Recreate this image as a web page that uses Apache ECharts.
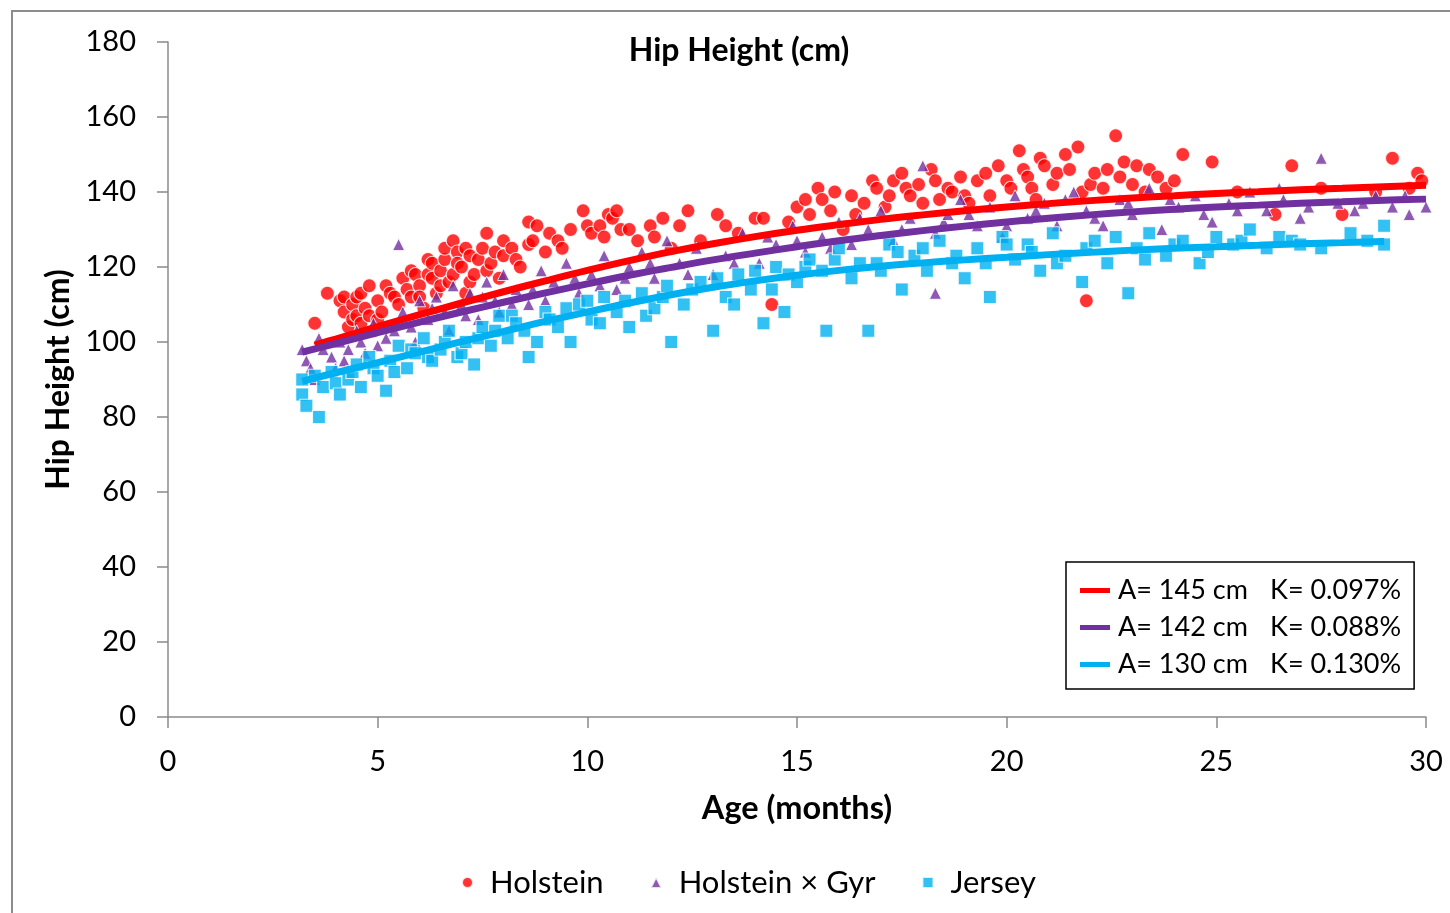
<!DOCTYPE html>
<html>
<head>
<meta charset="utf-8">
<title>Hip Height (cm)</title>
<script src="https://cdn.jsdelivr.net/npm/echarts@6/dist/echarts.min.js"></script>
<style>
  html, body { margin: 0; padding: 0; background: #fff; }
  #chart { width: 1450px; height: 913px; }
</style>
</head>
<body>
<div id="chart"></div>
<script>
// scatter data [age in months, hip height in cm]
var holstein = [
  [3.5,105],[3.8,113],[4.1,111],[4.2,108],[4.2,112],[4.3,104],[4.4,110],[4.4,106],[4.5,112],[4.5,107],
  [4.6,105],[4.6,113],[4.7,109],[4.8,115],[4.8,107],[4.9,103],[5.0,111],[5.0,106],[5.1,108],[5.2,115],
  [5.3,113],[5.4,112],[5.5,110],[5.6,117],[5.7,114],[5.8,112],[5.8,119],[5.9,118],[6.0,115],[6.0,112],
  [6.1,109],[6.2,122],[6.2,118],[6.3,117],[6.3,121],[6.4,113],[6.5,119],[6.5,115],[6.6,122],[6.6,125],
  [6.7,116],[6.8,127],[6.8,118],[6.9,124],[6.9,121],[7.0,120],[7.1,113],[7.1,125],[7.2,123],[7.2,116],
  [7.3,118],[7.4,122],[7.5,125],[7.6,129],[7.6,119],[7.7,121],[7.8,124],[7.9,117],[8.0,123],[8.0,127],
  [8.2,125],[8.3,122],[8.4,120],[8.6,132],[8.6,126],[8.7,127],[8.8,131],[9.0,124],[9.1,129],[9.3,127],
  [9.4,125],[9.6,130],[9.9,135],[10.0,131],[10.1,129],[10.3,131],[10.4,128],[10.5,134],[10.6,133],[10.7,135],
  [10.8,130],[11.0,130],[11.2,127],[11.5,131],[11.6,128],[11.8,133],[12.0,125],[12.2,131],[12.4,135],[12.7,127],
  [13.1,134],[13.3,131],[13.6,129],[14.0,133],[14.2,133],[14.4,110],[14.8,132],[15.0,136],[15.2,138],[15.3,134],
  [15.5,141],[15.6,138],[15.8,135],[15.9,140],[16.1,130],[16.3,139],[16.4,134],[16.6,137],[16.8,143],[16.9,141],
  [17.1,136],[17.2,139],[17.3,143],[17.5,145],[17.6,141],[17.7,139],[17.9,142],[18.0,137],[18.2,146],[18.3,143],
  [18.4,138],[18.6,141],[18.7,140],[18.9,144],[19.0,139],[19.1,137],[19.3,143],[19.5,145],[19.6,139],[19.8,147],
  [20.0,143],[20.1,141],[20.3,151],[20.4,146],[20.5,144],[20.6,141],[20.7,138],[20.8,149],[20.9,147],[21.1,142],
  [21.2,145],[21.4,150],[21.5,146],[21.7,152],[21.8,140],[21.9,111],[22.0,142],[22.1,145],[22.3,141],[22.4,146],
  [22.6,155],[22.7,144],[22.8,148],[23.0,142],[23.1,147],[23.3,140],[23.4,146],[23.6,144],[23.8,141],[24.0,143],
  [24.2,150],[24.9,148],[25.5,140],[26.4,134],[26.8,147],[27.5,141],[28.0,134],[28.8,140],[29.2,149],[29.6,141],
  [29.8,145],[29.9,143]
];
var holsteinGyr = [
  [3.2,98],[3.3,95],[3.4,93],[3.5,90],[3.6,101],[3.7,98],[3.9,96],[4.0,93],[4.1,100],[4.2,95],
  [4.3,98],[4.5,103],[4.6,100],[4.7,97],[4.9,105],[5.0,99],[5.2,101],[5.4,103],[5.5,126],[5.6,108],
  [5.8,104],[5.9,100],[6.0,111],[6.2,106],[6.3,109],[6.4,112],[6.6,108],[6.7,103],[6.8,115],[7.0,110],
  [7.1,107],[7.2,113],[7.4,106],[7.5,112],[7.6,116],[7.8,111],[7.9,108],[8.0,118],[8.2,110],[8.3,114],
  [8.6,110],[8.7,114],[8.9,119],[9.0,111],[9.2,116],[9.5,121],[9.7,117],[9.8,113],[10.1,118],[10.3,115],
  [10.4,123],[10.7,114],[10.9,117],[11.0,120],[11.3,124],[11.5,121],[11.6,117],[11.9,127],[12.2,121],[12.4,118],
  [12.6,125],[13.0,118],[13.3,123],[13.5,121],[13.7,129],[14.1,121],[14.3,128],[14.5,126],[14.9,131],[15.0,127],
  [15.2,124],[15.6,128],[15.8,125],[16.0,132],[16.3,126],[16.5,133],[16.7,130],[17.0,135],[17.3,127],[17.5,130],
  [17.7,133],[18.0,147],[18.3,113],[18.3,129],[18.5,132],[18.6,134],[18.9,138],[19.1,134],[19.3,131],[19.6,136],
  [19.9,128],[20.0,131],[20.2,139],[20.5,133],[20.7,135],[20.9,137],[21.2,131],[21.4,138],[21.6,140],[21.9,135],
  [22.1,133],[22.3,131],[22.7,138],[22.9,137],[23.0,134],[23.4,141],[23.7,130],[23.9,138],[24.1,136],[24.5,139],
  [24.7,134],[24.9,132],[25.3,137],[25.5,135],[25.8,140],[26.2,135],[26.5,141],[26.6,138],[27.0,133],[27.2,136],
  [27.5,149],[27.9,137],[28.3,135],[28.5,137],[28.8,139],[29.2,136],[29.5,139],[29.6,134],[30.0,136]
];
var jersey = [
  [3.2,90],[3.2,86],[3.3,83],[3.5,91],[3.6,80],[3.7,88],[3.9,92],[4.0,89],[4.1,86],[4.3,90],
  [4.4,92],[4.5,94],[4.6,88],[4.8,96],[4.9,93],[5.0,91],[5.2,87],[5.3,95],[5.4,92],[5.5,99],
  [5.7,93],[5.8,98],[5.9,97],[6.1,101],[6.2,96],[6.3,95],[6.5,98],[6.6,100],[6.7,103],[6.9,96],
  [7.0,97],[7.1,100],[7.3,94],[7.4,101],[7.5,104],[7.7,99],[7.8,103],[7.9,107],[8.1,101],[8.2,107],
  [8.3,105],[8.5,103],[8.6,96],[8.8,100],[9.0,108],[9.1,106],[9.3,104],[9.5,109],[9.6,100],[9.8,110],
  [10.0,111],[10.1,106],[10.3,105],[10.4,112],[10.7,108],[10.9,111],[11.0,104],[11.3,113],[11.4,107],[11.6,109],
  [11.8,112],[11.9,115],[12.0,100],[12.3,110],[12.5,114],[12.7,116],[13.0,103],[13.1,117],[13.3,112],[13.5,110],
  [13.6,118],[13.9,114],[14.0,119],[14.2,105],[14.4,114],[14.5,120],[14.7,108],[14.8,118],[15.0,116],[15.2,120],
  [15.3,122],[15.6,119],[15.7,103],[15.9,122],[16.0,125],[16.3,117],[16.5,121],[16.7,103],[16.9,121],[17.0,119],
  [17.2,126],[17.4,124],[17.5,114],[17.8,123],[18.0,125],[18.1,119],[18.4,127],[18.7,121],[18.8,123],[19.0,117],
  [19.3,125],[19.5,121],[19.6,112],[19.9,128],[20.0,126],[20.2,122],[20.5,126],[20.6,124],[20.8,119],[21.1,129],
  [21.2,121],[21.4,123],[21.8,116],[21.9,125],[22.1,127],[22.4,121],[22.6,128],[22.9,113],[23.1,125],[23.3,122],
  [23.4,129],[23.8,123],[24.0,126],[24.2,127],[24.6,121],[24.8,124],[25.0,128],[25.4,126],[25.6,127],[25.8,130],
  [26.2,125],[26.5,128],[26.8,127],[27.0,126],[27.5,125],[28.2,129],[28.6,127],[29.0,131],[29.0,126]
];

// fitted growth curves
var fitHolstein = [
  [3.5,99.2],[4,100.8],[5,104.1],[6,107.3],[7,110.4],[8,113.4],[9,116.3],[10,119.1],[11,121.7],[12,124.1],
  [13,126.2],[14,128.1],[15,129.8],[16,131.3],[17,132.7],[18,133.9],[19,135.0],[20,136.0],[21,136.9],[22,137.7],
  [23,138.4],[24,139.0],[25,139.6],[26,140.1],[27,140.6],[28,141.0],[29,141.4],[30,141.8]
];
var fitHolsteinGyr = [
  [3.2,97.3],[4,99.6],[5,102.5],[6,105.3],[7,108.0],[8,110.6],[9,113.1],[10,115.5],[11,117.8],[12,119.9],
  [13,121.9],[14,123.7],[15,125.4],[16,127.0],[17,128.4],[18,129.7],[19,130.9],[20,132.0],[21,133.0],[22,133.9],
  [23,134.7],[24,135.4],[25,136.0],[26,136.5],[27,137.0],[28,137.4],[29,137.8],[30,138.1]
];
var fitJersey = [
  [3.2,89.5],[4,91.8],[5,94.5],[6,97.3],[7,100.1],[8,102.8],[9,105.5],[10,108.0],[11,110.4],[12,112.6],
  [13,114.6],[14,116.3],[15,117.8],[16,119.1],[17,120.2],[18,121.1],[19,121.9],[20,122.6],[21,123.3],[22,123.9],
  [23,124.5],[24,125.0],[25,125.4],[26,125.8],[27,126.2],[28,126.5],[29,126.8]
];

var seriesNames = ['Holstein', 'Holstein × Gyr', 'Jersey'];
var fitNames = ['A= 145 cm|K= 0.097%', 'A= 142 cm|K= 0.088%', 'A= 130 cm|K= 0.130%'];
var colors = ['#FF0000', '#7030A0', '#00B0F0'];

var FONT = 'Lato';
var axisGray = '#8a8a8a';

var myChart = echarts.init(document.getElementById('chart'));

myChart.setOption({
  animation: false,
  textStyle: { fontFamily: FONT },
  title: {
    text: 'Hip Height (cm)',
    left: 734,
    top: 30,
    textAlign: 'center',
    textStyle: { fontFamily: FONT, fontWeight: 'bold', fontSize: 32, color: '#000' }
  },
  graphic: [{
    type: 'rect',
    shape: { x: 12, y: 11, width: 1500, height: 1000 },
    style: { fill: 'none', stroke: '#8c8c8c', lineWidth: 2 },
    silent: true, z: -10
  }],
  grid: {
    left: 168, right: 24, top: 42, bottom: 196,
    outerBoundsMode: 'none'
  },
  legend: [
    {
      data: seriesNames,
      left: 456,
      top: 862,
      itemWidth: 11,
      itemHeight: 11,
      itemGap: 46,
      textStyle: { fontFamily: FONT, fontSize: 31, color: '#000', padding: [0, 0, 0, 12] }
    },
    {
      data: fitNames,
      orient: 'vertical',
      left: 1066,
      top: 562,
      padding: [15, 13, 11, 14],
      itemGap: 10,
      itemWidth: 30,
      itemHeight: 5,
      icon: 'rect',
      borderColor: '#000',
      borderWidth: 1.5,
      backgroundColor: '#fff',
      formatter: function (name) {
        var p = name.split('|');
        return '{a|' + p[0] + '}{k|' + p[1] + '}';
      },
      textStyle: {
        fontFamily: FONT, fontSize: 27, color: '#000', lineHeight: 27,
        padding: [0, 0, 0, 3],
        rich: {
          a: { width: 152, fontFamily: FONT, fontSize: 27, color: '#000' },
          k: { fontFamily: FONT, fontSize: 27, color: '#000' }
        }
      }
    }
  ],
  xAxis: {
    type: 'value',
    min: 0, max: 30, interval: 5,
    name: 'Age (months)',
    nameLocation: 'middle',
    nameGap: 75,
    nameTextStyle: { fontFamily: FONT, fontWeight: 'bold', fontSize: 32.5, color: '#000' },
    axisLine: { show: true, onZero: false, lineStyle: { color: axisGray, width: 1.5 } },
    axisTick: { show: true, inside: false, length: 11, lineStyle: { color: axisGray, width: 1.5 } },
    axisLabel: { fontFamily: FONT, fontSize: 29, color: '#000', margin: 30 },
    splitLine: { show: false }
  },
  yAxis: {
    type: 'value',
    min: 0, max: 180, interval: 20,
    name: 'Hip Height (cm)',
    nameLocation: 'middle',
    nameGap: 92,
    nameTextStyle: { fontFamily: FONT, fontWeight: 'bold', fontSize: 32, color: '#000' },
    axisLine: { show: true, lineStyle: { color: axisGray, width: 1.5 } },
    axisTick: { show: true, inside: false, length: 11, lineStyle: { color: axisGray, width: 1.5 } },
    axisLabel: { fontFamily: FONT, fontSize: 29, color: '#000', margin: 32 },
    splitLine: { show: false }
  },
  series: [
    {
      name: seriesNames[0], type: 'scatter', data: holstein,
      symbol: 'circle', symbolSize: 14,
      itemStyle: { color: colors[0], borderColor: '#fff', borderWidth: 1.2 }
    },
    {
      name: seriesNames[1], type: 'scatter', data: holsteinGyr,
      symbol: 'triangle', symbolSize: 12,
      itemStyle: { color: colors[1], borderColor: '#fff', borderWidth: 1 }
    },
    {
      name: seriesNames[2], type: 'scatter', data: jersey,
      symbol: 'rect', symbolSize: 13,
      itemStyle: { color: colors[2], borderColor: '#fff', borderWidth: 1.2 }
    },
    {
      name: fitNames[0], type: 'line', data: fitHolstein, smooth: 0.4, showSymbol: false,
      lineStyle: { color: colors[0], width: 7 }, itemStyle: { color: colors[0] }, z: 5
    },
    {
      name: fitNames[1], type: 'line', data: fitHolsteinGyr, smooth: 0.4, showSymbol: false,
      lineStyle: { color: colors[1], width: 7 }, itemStyle: { color: colors[1] }, z: 5
    },
    {
      name: fitNames[2], type: 'line', data: fitJersey, smooth: 0.4, showSymbol: false,
      lineStyle: { color: colors[2], width: 7 }, itemStyle: { color: colors[2] }, z: 5
    }
  ]
});
</script>
</body>
</html>
